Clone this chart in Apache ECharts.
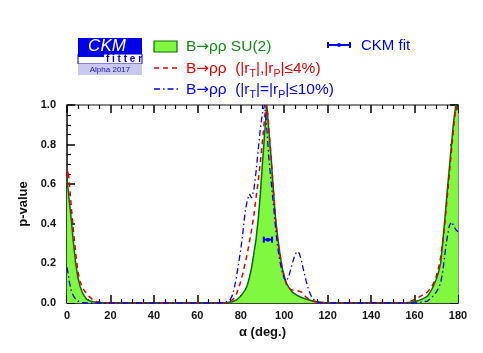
<!DOCTYPE html>
<html><head><meta charset="utf-8">
<script src="https://cdn.jsdelivr.net/npm/echarts@6/dist/echarts.min.js"></script>
<style>html,body{margin:0;padding:0;background:#fff}#c{width:483px;height:353px}</style>
</head><body><div id="c"></div>
<script>
// ---- data ----
const xTicks = [0,20,40,60,80,100,120,140,160,180];
const yTicks = [0.0,0.2,0.4,0.6,0.8,1.0];

const su2Alpha = [0,1,2,3,4,5,6,7,8,9,10,12,15,18,
  72,74,76,78,80,82,83,84,85,86,87,88,89,90,91,92,93,94,95,96,97,98,99,100,101,102,104,106,108,110,113,116,120,
  155,159,162,164,166,168,170,171,172,173,174,175,176,177,178,179,180];
const su2P = [0.63,0.52,0.42,0.30,0.20,0.13,0.085,0.055,0.035,0.02,0.013,0.006,0.002,0,
  0,0.002,0.006,0.015,0.035,0.065,0.09,0.13,0.18,0.25,0.32,0.42,0.55,0.71,0.86,1.0,0.86,0.73,0.57,0.43,0.33,0.25,0.18,0.135,0.10,0.08,0.052,0.038,0.028,0.02,0.01,0.005,0,
  0,0.005,0.013,0.022,0.035,0.07,0.12,0.155,0.2,0.31,0.43,0.56,0.68,0.80,0.92,1.0,0.98];

const r4Alpha = [0,0.5,1,2,3,4,5,6,7,8,9,10,12,14,17,
  72,75,77,78,79,80,81,82,83,84,85,86,87,88,89,90,91,91.7,92.5,93,94,95,96,97,98,99,100,101,102,103,104,106,108,110,112,114,117,
  156,158,160,162,164,166,167,168,169,170,171,172,173,174,175,176,177,178,179,180];
const r4P = [0.64,0.67,0.62,0.48,0.36,0.25,0.16,0.11,0.08,0.062,0.05,0.035,0.016,0.006,0,
  0,0.005,0.025,0.045,0.075,0.11,0.15,0.2,0.25,0.31,0.37,0.44,0.53,0.61,0.71,0.82,0.94,1.0,0.95,0.87,0.73,0.57,0.42,0.32,0.25,0.18,0.13,0.095,0.077,0.068,0.065,0.062,0.055,0.03,0.015,0.006,0,
  0,0.008,0.018,0.03,0.042,0.056,0.07,0.085,0.105,0.135,0.175,0.23,0.31,0.41,0.53,0.65,0.77,0.89,0.99,0.96];

const r10Alpha = [0,0.5,1,2,3,4,5,7,9,
  70,73,75,76,77,78,79,80,81,82,83,84,85,86,87,88,89,90,91,92,93,94,95,96,97,98,99,100,101,102,103,104,105,106,107,108,109,110,111,112,113,115,118,
  160,163,166,168,170,171,172,173,174,175,176,177,178,179,180];
const r10P = [0.18,0.15,0.11,0.06,0.035,0.02,0.01,0.003,0,
  0,0.005,0.015,0.035,0.075,0.13,0.2,0.27,0.36,0.46,0.52,0.55,0.53,0.57,0.66,0.77,0.88,0.96,1.0,0.88,0.72,0.61,0.50,0.38,0.28,0.21,0.16,0.125,0.11,0.13,0.17,0.21,0.245,0.26,0.25,0.21,0.16,0.115,0.075,0.045,0.022,0.006,0,
  0,0.004,0.01,0.028,0.055,0.075,0.1,0.16,0.25,0.33,0.39,0.41,0.39,0.37,0.36];

const fitAlpha = [92.5];
const fitP = [0.32];
const fitErr = [1.9];

// ---- chart ----
const zip = (a,b) => a.map((v,i)=>[v,b[i]]);
const GREEN_FILL = '#80f840', GREEN_LINE = '#0a6a0a', RED = '#e00000', BLUE = '#0000f0';

const chart = echarts.init(document.getElementById('c'), null, {renderer:'canvas'});
const axisCommonX = {
  type:'value', min:0, max:180, interval:20,
  axisTick:{show:true, inside:true, length:8, lineStyle:{color:'#000', width:1.5}},
  minorTick:{show:true, splitNumber:4, length:4, lineStyle:{color:'#000', width:1.2}},
  splitLine:{show:false}, minorSplitLine:{show:false}
};
const axisCommonY = {
  type:'value', min:0, max:1, interval:0.2,
  axisTick:{show:true, inside:true, length:8, lineStyle:{color:'#000', width:1.5}},
  minorTick:{show:true, splitNumber:4, length:4, lineStyle:{color:'#000', width:1.2}},
  splitLine:{show:false}, minorSplitLine:{show:false}
};
const font = '"Liberation Sans", Arial, Helvetica, sans-serif';
const arrowFont = '"DejaVu Sans", sans-serif';

function legendRich(color){
  return {
    m:{fontFamily:font, fontSize:15.5, lineHeight:22, fill:color, verticalAlign:'middle'},
    a:{fontFamily:arrowFont, fontSize:15, lineHeight:22, fill:color, verticalAlign:'middle'},
    s:{fontFamily:font, fontSize:10.5, lineHeight:22, fill:color, verticalAlign:'bottom'}
  };
}

chart.setOption({
  animation:false,
  backgroundColor:'#fff',
  grid:{left:67, right:25, top:105, bottom:50, containLabel:false},
  xAxis:[
    Object.assign({}, axisCommonX, {
      position:'bottom',
      axisLine:{show:true, onZero:false, lineStyle:{color:'#000', width:1.5}},
      axisLabel:{show:true, margin:7, fontFamily:font, fontWeight:'bold', fontSize:11, color:'#111',
        formatter:v=> xTicks.includes(v) ? String(v) : ''},
      name:'α (deg.)', nameLocation:'middle', nameGap:23,
      nameTextStyle:{fontFamily:font, fontWeight:'bold', fontSize:13, color:'#111'}
    }),
    Object.assign({}, axisCommonX, {
      position:'top',
      axisLine:{show:true, onZero:false, lineStyle:{color:'#888', width:2}},
      axisLabel:{show:false}
    })
  ],
  yAxis:[
    Object.assign({}, axisCommonY, {
      position:'left',
      axisLine:{show:true, onZero:false, lineStyle:{color:'#000', width:1.5}},
      axisLabel:{show:true, margin:11, fontFamily:font, fontWeight:'bold', fontSize:11, color:'#111',
        formatter:v=> yTicks.some(t=>Math.abs(t-v)<1e-9) ? v.toFixed(1) : ''},
      name:'p-value', nameLocation:'middle', nameGap:36, nameRotate:90,
      nameTextStyle:{fontFamily:font, fontWeight:'bold', fontSize:13, color:'#111'}
    }),
    Object.assign({}, axisCommonY, {
      position:'right',
      axisLine:{show:true, onZero:false, lineStyle:{color:'#888', width:2}},
      axisLabel:{show:false}
    })
  ],
  series:[
    {type:'line', xAxisIndex:0, yAxisIndex:0, data:zip(su2Alpha,su2P), showSymbol:false, symbol:'none',
     lineStyle:{color:GREEN_LINE, width:1.5}, areaStyle:{color:GREEN_FILL, opacity:1}, z:2},
    {type:'line', xAxisIndex:0, yAxisIndex:0, data:zip(r4Alpha,r4P), showSymbol:false, symbol:'none',
     lineStyle:{color:RED, width:1.5, type:[5,4]}, z:3},
    {type:'line', xAxisIndex:0, yAxisIndex:0, data:zip(r10Alpha,r10P), showSymbol:false, symbol:'none',
     lineStyle:{color:BLUE, width:1.3, type:[6,3,1.5,3]}, z:4},
    {type:'custom', xAxisIndex:0, yAxisIndex:0, z:5,
     data: fitAlpha.map((a,i)=>[a, fitP[i], a-fitErr[i], a+fitErr[i]]),
     renderItem:(params, api)=>{
       const c = api.coord([api.value(0), api.value(1)]);
       const lo = api.coord([api.value(2), api.value(1)]);
       const hi = api.coord([api.value(3), api.value(1)]);
       const st = {stroke:BLUE, lineWidth:2};
       return {type:'group', children:[
         {type:'line', shape:{x1:lo[0], y1:c[1], x2:hi[0], y2:c[1]}, style:st},
         {type:'line', shape:{x1:lo[0], y1:c[1]-3, x2:lo[0], y2:c[1]+3}, style:st},
         {type:'line', shape:{x1:hi[0], y1:c[1]-3, x2:hi[0], y2:c[1]+3}, style:st},
         {type:'circle', shape:{cx:c[0], cy:c[1], r:2}, style:{fill:BLUE}}
       ]};
     }}
  ],
  graphic:[
    // CKMfitter logo
    {type:'rect', shape:{x:78, y:38, width:64, height:16}, style:{fill:'#0000e6'}},
    {type:'text', x:107, y:46, style:{text:'CKM', fill:'#fff', font:'italic 17px '+font, align:'center', verticalAlign:'middle'}},
    {type:'rect', shape:{x:78, y:54, width:64, height:10}, style:{fill:'#fff', stroke:'#0000e6', lineWidth:1}},
    {type:'rect', shape:{x:78, y:54, width:26, height:3}, style:{fill:'#0000e6'}},
    {type:'text', x:124, y:59.5, style:{text:'f i t t e r', fill:'#0000c8', font:'bold 10px '+font, align:'center', verticalAlign:'middle'}},
    {type:'rect', shape:{x:78, y:64, width:64, height:11}, style:{fill:'#c8c8f0'}},
    {type:'text', x:110, y:70, style:{text:'Alpha 2017', fill:'#1a1aa0', font:'8px '+font, align:'center', verticalAlign:'middle'}},
    // legend: SU(2)
    {type:'rect', shape:{x:154, y:41, width:23, height:11}, style:{fill:GREEN_FILL, stroke:GREEN_LINE, lineWidth:1.2}},
    {type:'text', x:186, y:36, style:{text:'{m|B}{a|→}{m|ρρ SU(2)}', rich:legendRich('#168a16')}},
    // legend: CKM fit
    {type:'line', shape:{x1:328, y1:45, x2:350, y2:45}, style:{stroke:BLUE, lineWidth:2}},
    {type:'line', shape:{x1:328, y1:42, x2:328, y2:48}, style:{stroke:BLUE, lineWidth:2}},
    {type:'line', shape:{x1:350, y1:42, x2:350, y2:48}, style:{stroke:BLUE, lineWidth:2}},
    {type:'circle', shape:{cx:339, cy:45, r:2}, style:{fill:BLUE}},
    {type:'text', x:361, y:46, style:{text:'CKM fit', fill:BLUE, font:'15px '+font, verticalAlign:'middle'}},
    // legend: 4%
    {type:'line', shape:{x1:154, y1:68, x2:178, y2:68}, style:{stroke:RED, lineWidth:1.5, lineDash:[5,4]}},
    {type:'text', x:186, y:58, style:{
      text:'{m|B}{a|→}{m|ρρ  (|r}{s|T}{m||,|r}{s|P}{m||≤4%)}', rich:legendRich(RED)}},
    // legend: 10%
    {type:'line', shape:{x1:154, y1:89, x2:178, y2:89}, style:{stroke:BLUE, lineWidth:1.3, lineDash:[6,3,1.5,3]}},
    {type:'text', x:186, y:79, style:{
      text:'{m|B}{a|→}{m|ρρ  (|r}{s|T}{m||=|r}{s|P}{m||≤10%)}', rich:legendRich(BLUE)}}
  ]
});
</script></body></html>
